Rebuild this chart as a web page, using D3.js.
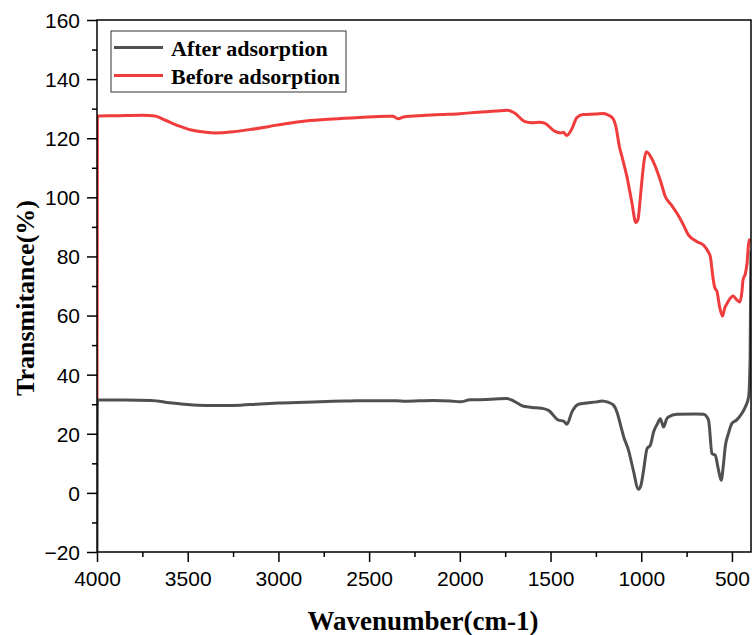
<!DOCTYPE html>
<html>
<head>
<meta charset="utf-8">
<script src="https://cdn.jsdelivr.net/npm/d3@7"></script>
<style>
  body { margin: 0; background: #fff; }
  .tick text { font-family: "Liberation Sans", Arial, sans-serif; font-size: 21px; fill: #000; }
</style>
</head>
<body>
<div id="chart"></div>
<script>
// FTIR spectra
var beforeWave = [4000, 3998, 3900, 3750, 3680, 3620, 3550, 3480, 3400, 3350, 3250, 3150, 3050, 2950, 2850, 2700, 2550, 2400, 2370, 2340, 2310, 2200, 2100, 2000, 1900, 1800, 1740, 1700, 1640, 1600, 1560, 1530, 1475, 1445, 1430, 1410, 1380, 1355, 1320, 1250, 1207, 1180, 1154, 1140, 1120, 1106, 1079, 1051, 1030, 1018, 1005, 996, 985, 972, 941, 895, 867, 835, 803, 770, 739, 692, 656, 630, 619, 605, 595, 582, 568, 552, 540, 527, 510, 494, 472, 457, 445, 439, 426, 417, 408, 400];
var beforeT = [30, 127.5, 127.6, 127.8, 127.5, 126, 124.2, 122.8, 122, 121.8, 122.2, 123, 124, 125, 125.8, 126.5, 127, 127.4, 127.4, 126.6, 127.2, 127.7, 128, 128.3, 128.8, 129.2, 129.5, 128.6, 125.6, 125.2, 125.4, 125, 122.3, 121.8, 122, 120.9, 123.5, 127, 128, 128.2, 128.4, 127.8, 126.5, 124, 117, 113.7, 107, 98, 91.5, 92.5, 100, 105.8, 112, 115.4, 113, 105.8, 100.2, 97.5, 94.6, 91, 87.2, 85, 83.8, 81.5, 79.9, 73, 69.5, 68, 62.9, 59.8, 62.5, 64.1, 65.8, 66.6, 65.2, 64.6, 68, 72, 74.2, 77.6, 84.4, 86];

var afterWave = [4000, 3998, 3850, 3700, 3600, 3500, 3400, 3250, 3100, 3000, 2850, 2700, 2605, 2500, 2350, 2300, 2147, 2050, 1998, 1943, 1850, 1740, 1700, 1649, 1580, 1539, 1511, 1456, 1428, 1410, 1382, 1346, 1300, 1245, 1217, 1180, 1153, 1134, 1110, 1097, 1070, 1045, 1015, 1000, 987, 968, 950, 932, 910, 895, 877, 860, 850, 803, 700, 657, 629, 610, 592, 575, 559, 548, 537, 520, 500, 472, 450, 426, 408, 400, 397, 395];
var afterT = [-20, 31.4, 31.4, 31.3, 30.5, 29.9, 29.6, 29.6, 30.1, 30.4, 30.7, 31, 31.1, 31.2, 31.2, 31, 31.3, 31.1, 30.8, 31.5, 31.6, 31.9, 31, 29.3, 28.8, 28.5, 27.9, 24.6, 24.3, 23.2, 27.4, 30, 30.4, 30.8, 31.1, 30.6, 29.7, 27.4, 22, 19, 14.4, 8, 1.2, 3, 7.7, 15, 16.1, 20.6, 23.5, 25.1, 22.3, 25, 25.7, 26.6, 26.7, 26.6, 24.6, 13.3, 12.7, 8, 4.3, 9, 15.6, 20, 23.5, 24.8, 26.5, 29.1, 32.5, 45, 70, 82];

var seriesNames = ["After adsorption", "Before adsorption"];
var xTicks = [4000, 3500, 3000, 2500, 2000, 1500, 1000, 500];
var yTicks = [-20, 0, 20, 40, 60, 80, 100, 120, 140, 160];

var margin = { top: 20, right: 2, bottom: 83, left: 97 },
  width = 753 - margin.left - margin.right,
  height = 635 - margin.top - margin.bottom;

var svg = d3.select("#chart")
  .append("svg")
  .attr("width", 753)
  .attr("height", 635)
  .append("g")
  .attr("transform", "translate(" + margin.left + "," + margin.top + ")");

var x = d3.scaleLinear().domain([4000, 395]).range([0, width]);
var y = d3.scaleLinear().domain([-20, 160]).range([height, 0]);

var color = d3.scaleOrdinal()
  .domain(seriesNames)
  .range(["#505050", "#f03c3c"]);

var series = [
  { name: "After adsorption", points: afterWave.map(function (w, i) { return [w, afterT[i]]; }) },
  { name: "Before adsorption", points: beforeWave.map(function (w, i) { return [w, beforeT[i]]; }) }
];

svg.append("clipPath").attr("id", "clip")
  .append("rect").attr("width", width).attr("height", height);

var line = d3.line()
  .x(function (d) { return x(d[0]); })
  .y(function (d) { return y(d[1]); })
  .curve(d3.curveMonotoneX);

// draw red first so grey sits on top like the original
svg.selectAll(".line")
  .data([series[1], series[0]])
  .enter()
  .append("path")
  .attr("class", "line")
  .attr("clip-path", "url(#clip)")
  .attr("d", function (d) { return line(d.points); })
  .style("fill", "none")
  .style("stroke", function (d) { return color(d.name); })
  .style("stroke-width", 3)
  .style("stroke-linejoin", "round");

// minor ticks
var xMinor = d3.range(4000, 394, -250).filter(function (v) { return v % 500 !== 0; });
var yMinor = d3.range(-10, 160, 20);

svg.append("g")
  .attr("transform", "translate(0," + height + ")")
  .call(d3.axisBottom(x).tickValues(xMinor).tickSize(5).tickFormat(""))
  .call(function (g) { g.select(".domain").remove(); g.selectAll("line").attr("stroke-width", 1.5); });

svg.append("g")
  .call(d3.axisLeft(y).tickValues(yMinor).tickSize(5).tickFormat(""))
  .call(function (g) { g.select(".domain").remove(); g.selectAll("line").attr("stroke-width", 1.5); });

// major axes
svg.append("g")
  .attr("transform", "translate(0," + height + ")")
  .call(d3.axisBottom(x).tickValues(xTicks).tickSize(10).tickPadding(9).tickSizeOuter(0).tickFormat(d3.format("d")))
  .call(function (g) {
    g.select(".domain").remove();
    g.selectAll("line").attr("stroke-width", 1.5);
  });

svg.append("g")
  .call(d3.axisLeft(y).tickValues(yTicks).tickSize(10).tickPadding(7).tickSizeOuter(0).tickFormat(d3.format("d")))
  .call(function (g) {
    g.select(".domain").remove();
    g.selectAll("line").attr("stroke-width", 1.5);
    g.selectAll("text").attr("dy", "0.35em");
  });

// frame
svg.append("rect")
  .attr("width", width)
  .attr("height", height)
  .style("fill", "none")
  .style("stroke", "#000")
  .style("stroke-width", 1.5);

// axis titles
svg.append("text")
  .attr("x", width / 2 - 1)
  .attr("y", height + 78)
  .style("text-anchor", "middle")
  .style("font-family", "'Liberation Serif', 'Times New Roman', serif")
  .style("font-weight", "bold")
  .style("font-size", "27px")
  .text("Wavenumber(cm-1)");

svg.append("text")
  .attr("transform", "translate(-63," + (height / 2 + 12) + ") rotate(-90)")
  .style("text-anchor", "middle")
  .style("font-family", "'Liberation Serif', 'Times New Roman', serif")
  .style("font-weight", "bold")
  .style("font-size", "26px")
  .text("Transmitance(%)");

// legend
var legend = svg.append("g")
  .attr("transform", "translate(14,11)");

legend.append("rect")
  .attr("width", 235)
  .attr("height", 61)
  .style("fill", "#fff")
  .style("stroke", "#333")
  .style("stroke-width", 1);

var legendItems = legend.selectAll(".legend-item")
  .data(seriesNames)
  .enter().append("g")
  .attr("class", "legend-item")
  .attr("transform", function (d, i) { return "translate(0," + (16.5 + i * 28) + ")"; });

legendItems.append("line")
  .attr("x1", 3)
  .attr("x2", 52)
  .style("stroke", color)
  .style("stroke-width", 3);

legendItems.append("text")
  .attr("x", 60)
  .attr("y", 8)
  .style("font-family", "'Liberation Serif', 'Times New Roman', serif")
  .style("font-weight", "bold")
  .style("font-size", "22px")
  .text(function (d) { return d; });
</script>
</body>
</html>
